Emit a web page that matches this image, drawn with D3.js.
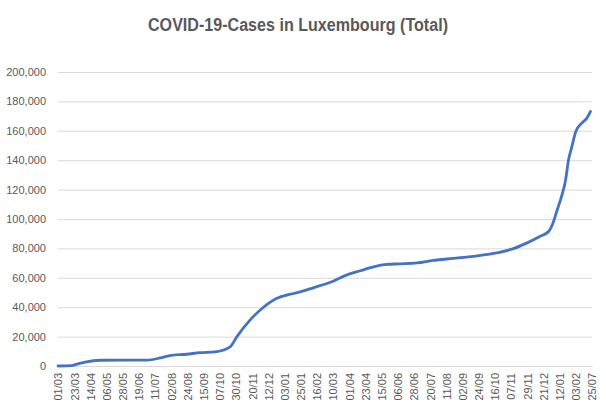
<!DOCTYPE html>
<html>
<head>
<meta charset="utf-8">
<script src="https://cdn.jsdelivr.net/npm/d3@7"></script>
<style>
body { margin:0; background:#fff; }
#chart { width:606px; height:411px; }
</style>
</head>
<body>
<div id="chart"></div>
<script>
// day offsets since 01/03/2020 and total cases
var days  = [0, 18, 27, 37, 57, 121, 139, 152, 175, 193, 213, 234, 243, 261, 279, 297, 316, 329, 347, 374, 392, 411, 429, 447, 465, 488, 510, 537, 565, 596, 619, 637, 655, 667, 673, 678, 685, 690, 694, 698, 704, 712, 719, 724];
var cases = [0, 200, 1500, 2700, 3900, 4000, 5500, 7100, 8000, 9100, 9600, 13000, 19800, 31200, 39800, 45900, 48900, 50400, 53200, 57700, 61800, 64800, 67500, 69100, 69500, 70100, 71800, 73200, 74600, 76900, 79800, 83600, 88100, 91500, 97300, 105100, 116100, 126200, 140000, 148000, 159500, 165200, 168600, 173200];

var xLabels = ["01/03","23/03","14/04","06/05","28/05","19/06","11/07","02/08","24/08","15/09","07/10","30/10","20/11","12/12","03/01","25/01","16/02","10/03","01/04","23/04","15/05","06/06","28/06","20/07","11/08","02/09","24/09","16/10","07/11","29/11","21/12","12/01","03/02","25/07"];
var labelStep = 22;
var yTicks = [0, 20000, 40000, 60000, 80000, 100000, 120000, 140000, 160000, 180000, 200000];

var W = 606, H = 411;
var margin = {top: 72, right: 14, bottom: 45, left: 58};
var grey = "#595959";

var svg = d3.select("#chart").append("svg").attr("width", W).attr("height", H);

svg.append("text")
	.attr("x", 298).attr("y", 31)
	.attr("text-anchor", "middle")
	.attr("font-family", "Liberation Sans, Arial, sans-serif")
	.attr("font-size", 18).attr("font-weight", "bold")
	.attr("fill", grey)
	.attr("textLength", 300).attr("lengthAdjust", "spacingAndGlyphs")
	.text("COVID-19-Cases in Luxembourg (Total)");

var x = d3.scaleLinear().domain([0, labelStep * (xLabels.length - 1)]).range([margin.left, W - margin.right]);
var y = d3.scaleLinear().domain([0, 200000]).range([H - margin.bottom, margin.top]);

// gridlines
var gy = svg.append("g").attr("transform", "translate(" + margin.left + ",0)")
	.call(d3.axisLeft(y).tickValues(yTicks).tickSize(-(W - margin.left - margin.right)).tickFormat(""));
gy.select(".domain").remove();
gy.selectAll("line").attr("stroke", "#d9d9d9").attr("stroke-width", 1);

// y labels
var ya = svg.append("g").attr("transform", "translate(" + margin.left + ",0)")
	.call(d3.axisLeft(y).tickValues(yTicks).tickSize(0).tickPadding(12).tickFormat(d3.format(",")));
ya.select(".domain").remove();
ya.selectAll("text").attr("font-family", "Liberation Sans, Arial, sans-serif").attr("font-size", 11).attr("fill", grey);

// x axis
var xa = svg.append("g").attr("transform", "translate(0," + (H - margin.bottom) + ")")
	.call(d3.axisBottom(x).tickValues(d3.range(xLabels.length).map(function(i){ return i * labelStep; }))
		.tickSize(0).tickFormat(function(d, i){ return xLabels[i]; }));
xa.select(".domain").attr("stroke", "#d9d9d9");
xa.selectAll("text")
	.attr("font-family", "Liberation Sans, Arial, sans-serif").attr("font-size", 11).attr("fill", grey)
	.attr("text-anchor", "end")
	.attr("transform", "rotate(-90)")
	.attr("x", -7).attr("y", 0).attr("dy", "0.35em");

var pts = days.map(function(d, i){ return [d, cases[i]]; });
var line = d3.line().x(function(d){ return x(d[0]); }).y(function(d){ return y(d[1]); }).curve(d3.curveMonotoneX);

svg.append("path").datum(pts)
	.attr("d", line)
	.attr("fill", "none")
	.attr("stroke", "#4472c4")
	.attr("stroke-width", 2.8)
	.attr("stroke-linejoin", "round")
	.attr("stroke-linecap", "round");
</script>
</body>
</html>
